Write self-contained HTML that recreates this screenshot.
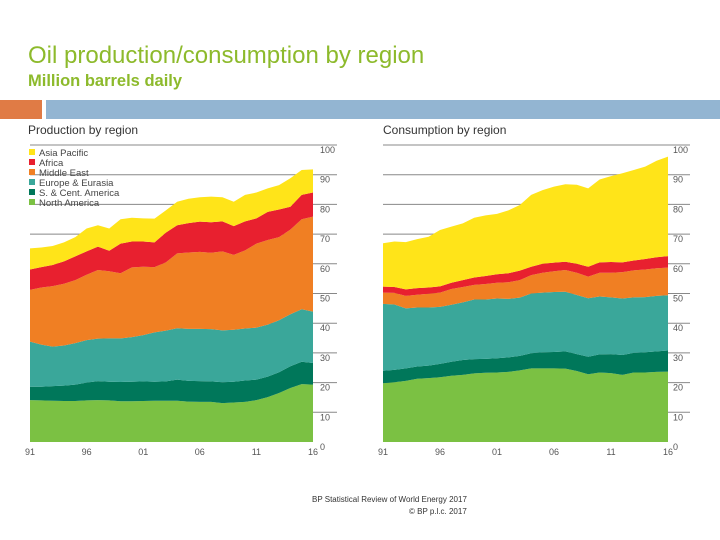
<!DOCTYPE html>
<html><head><meta charset="utf-8">
<style>
body{margin:0;background:#fff;font-family:"Liberation Sans",sans-serif;}
#root{position:relative;width:720px;height:540px;overflow:hidden;background:#fff;}
.t{position:absolute;white-space:nowrap;}
</style></head><body>
<div id="root">
<div class="t" style="left:28px;top:42px;font-size:24px;color:#8dba2c;">Oil production/consumption by region</div>
<div class="t" style="left:28px;top:72px;font-size:16.5px;font-weight:bold;color:#8dba2c;">Million barrels daily</div>
<div style="position:absolute;left:0;top:100px;width:42px;height:19px;background:#e07b45;"></div>
<div style="position:absolute;left:46px;top:100px;width:674px;height:19px;background:#93b5d2;"></div>
<div class="t" style="left:28px;top:123px;font-size:12px;color:#333;">Production by region</div>
<div class="t" style="left:383px;top:123px;font-size:12px;color:#333;">Consumption by region</div>
<svg id="chart" width="720" height="540" style="position:absolute;left:0;top:0"></svg>
<div class="t" style="left:312px;top:495px;font-size:8px;color:#333;">BP Statistical Review of World Energy 2017</div>
<div class="t" style="left:409px;top:507px;font-size:8px;color:#333;">© BP p.l.c. 2017</div>
</div>
<script>
const years=[1991,1992,1993,1994,1995,1996,1997,1998,1999,2000,2001,2002,2003,2004,2005,2006,2007,2008,2009,2010,2011,2012,2013,2014,2015,2016];
const regions=["North America","S. & Cent. America","Europe & Eurasia","Middle East","Africa","Asia Pacific"];
const colors=["#7bc143","#00775a","#3aa79a","#f07f23","#e8202f","#ffe419"];
const xTickLabels=["91","96","01","06","11","16"];
const yTicks=[0,10,20,30,40,50,60,70,80,90,100];
// cumulative stacked tops (million b/d)
const prodNA=[14.1,14.0,13.9,13.8,13.8,14.0,14.1,14.0,13.7,13.7,13.8,13.9,13.9,13.9,13.6,13.5,13.5,13.1,13.3,13.5,14.1,15.1,16.5,18.2,19.5,19.3];
const prodSCA=[18.6,18.6,18.8,19.0,19.3,20.0,20.5,20.3,20.2,20.3,20.4,20.3,20.4,21.0,20.6,20.5,20.4,20.1,20.3,20.7,21.0,22.0,23.5,25.5,27.0,26.6];
const prodEU=[33.8,32.8,32.1,32.5,33.3,34.3,34.8,34.9,34.9,35.3,36.0,36.9,37.5,38.3,38.1,38.1,38.0,37.6,37.8,38.2,38.5,39.5,41.0,43.0,44.7,43.9];
const prodME=[51.2,52.0,52.5,53.3,54.5,56.3,57.9,57.5,56.8,58.8,59.0,58.9,60.5,63.5,63.8,64.0,63.7,64.2,63.0,64.5,66.8,68.0,69.0,71.5,75.0,75.9];
const prodAF=[58.1,58.9,59.6,60.8,62.5,64.2,65.8,64.4,66.8,67.5,67.5,67.2,70.5,73.0,73.7,74.2,74.0,74.3,72.7,74.3,75.3,77.5,78.3,79.2,83.2,84.0];
const prodAP=[65.2,65.5,66.0,67.2,69.0,71.9,73.0,71.9,75.0,75.5,75.3,75.2,78.0,80.9,81.9,82.4,82.6,82.4,80.9,83.2,84.0,85.4,86.5,88.8,91.6,91.8];
const consNA=[19.8,20.1,20.6,21.3,21.5,21.8,22.3,22.6,23.1,23.3,23.4,23.6,24.1,24.8,24.8,24.8,24.7,23.9,22.8,23.4,23.2,22.6,23.4,23.4,23.6,23.7];
const consSCA=[24.0,24.3,24.8,25.4,25.7,26.3,27.0,27.6,27.9,28.0,28.2,28.5,29.0,29.9,30.2,30.3,30.5,29.6,28.7,29.5,29.6,29.3,30.0,30.2,30.5,30.8];
const consEU=[46.5,46.3,45.0,45.3,45.3,45.5,46.2,47.0,48.0,48.0,48.3,48.2,48.6,50.0,50.3,50.5,50.6,49.5,48.4,49.0,48.7,48.3,48.7,48.8,49.2,49.4];
const consME=[50.3,50.2,49.2,49.6,49.9,50.3,51.5,52.2,52.9,53.2,53.6,53.8,54.5,56.2,57.0,57.5,57.9,57.0,55.7,57.0,57.0,57.2,57.8,58.1,58.5,58.7];
const consAF=[52.3,52.2,51.4,51.8,52.0,52.4,53.6,54.5,55.4,55.9,56.5,56.8,57.7,59.0,60.0,60.4,60.7,60.0,59.0,60.5,60.6,60.5,61.1,61.6,62.2,62.6];
const consAP=[66.9,67.5,67.3,68.3,69.1,71.4,72.5,73.6,75.5,76.3,76.8,78.0,79.8,83.2,84.8,86.0,86.8,86.6,85.4,88.4,89.5,90.5,91.6,92.7,94.7,96.1];

const svg=document.getElementById('chart');
const NS='http://www.w3.org/2000/svg';
function mk(tag,attrs){const e=document.createElementNS(NS,tag);for(const k in attrs)e.setAttribute(k,attrs[k]);svg.appendChild(e);return e;}
const y0=442,y100=145;
function yS(v){return y0-(y0-y100)*v/100;}
function drawChart(key,x0,x1,gridR,labelX,series){
  function xS(i){return x0+(x1-x0)*(years[i]-years[0])/(years[years.length-1]-years[0]);}
  yTicks.forEach(t=>{
    if(t>0){const g=mk('line',{x1:x0,x2:gridR,y1:yS(t),y2:yS(t),stroke:'#888','stroke-width':1});
    
    }
    const l=mk('text',{x:labelX,y:yS(t)+8,'font-size':9,fill:'#555','font-family':'Liberation Sans, sans-serif'});
    l.textContent=t;
    
    
  });
  series.forEach((s,si)=>{
    const prev=si>0?series[si-1]:null;
    let d='M'+xS(0)+','+yS(s[0]);
    for(let i=1;i<s.length;i++)d+='L'+xS(i)+','+yS(s[i]);
    for(let i=s.length-1;i>=0;i--)d+='L'+xS(i)+','+yS(prev?prev[i]:0);
    const p=mk('path',{d:d+'Z',fill:colors[si]});
    
    
  });
  xTickLabels.forEach((lb,i)=>{
    const yr=years[0]+i*5;
    const x=x0+(x1-x0)*(yr-years[0])/(years[years.length-1]-years[0]);
    const t=mk('text',{x:x,y:455,'font-size':9,fill:'#555','text-anchor':'middle','font-family':'Liberation Sans, sans-serif'});
    t.textContent=lb;
    
    
  });
}
drawChart('production',30,313,337,320,[prodNA,prodSCA,prodEU,prodME,prodAF,prodAP]);
drawChart('consumption',383,668,690,673,[consNA,consSCA,consEU,consME,consAF,consAP]);
// legend
for(let i=5;i>=0;i--){
  const row=5-i;const y=149+row*10;
  const r=mk('rect',{x:29,y:y,width:6,height:6,fill:colors[i]});
  
  
  const t=mk('text',{x:39,y:y+7,'font-size':9.5,fill:'#444','font-family':'Liberation Sans, sans-serif'});
  t.textContent=regions[i];
  
  
}
</script>
</body></html>
